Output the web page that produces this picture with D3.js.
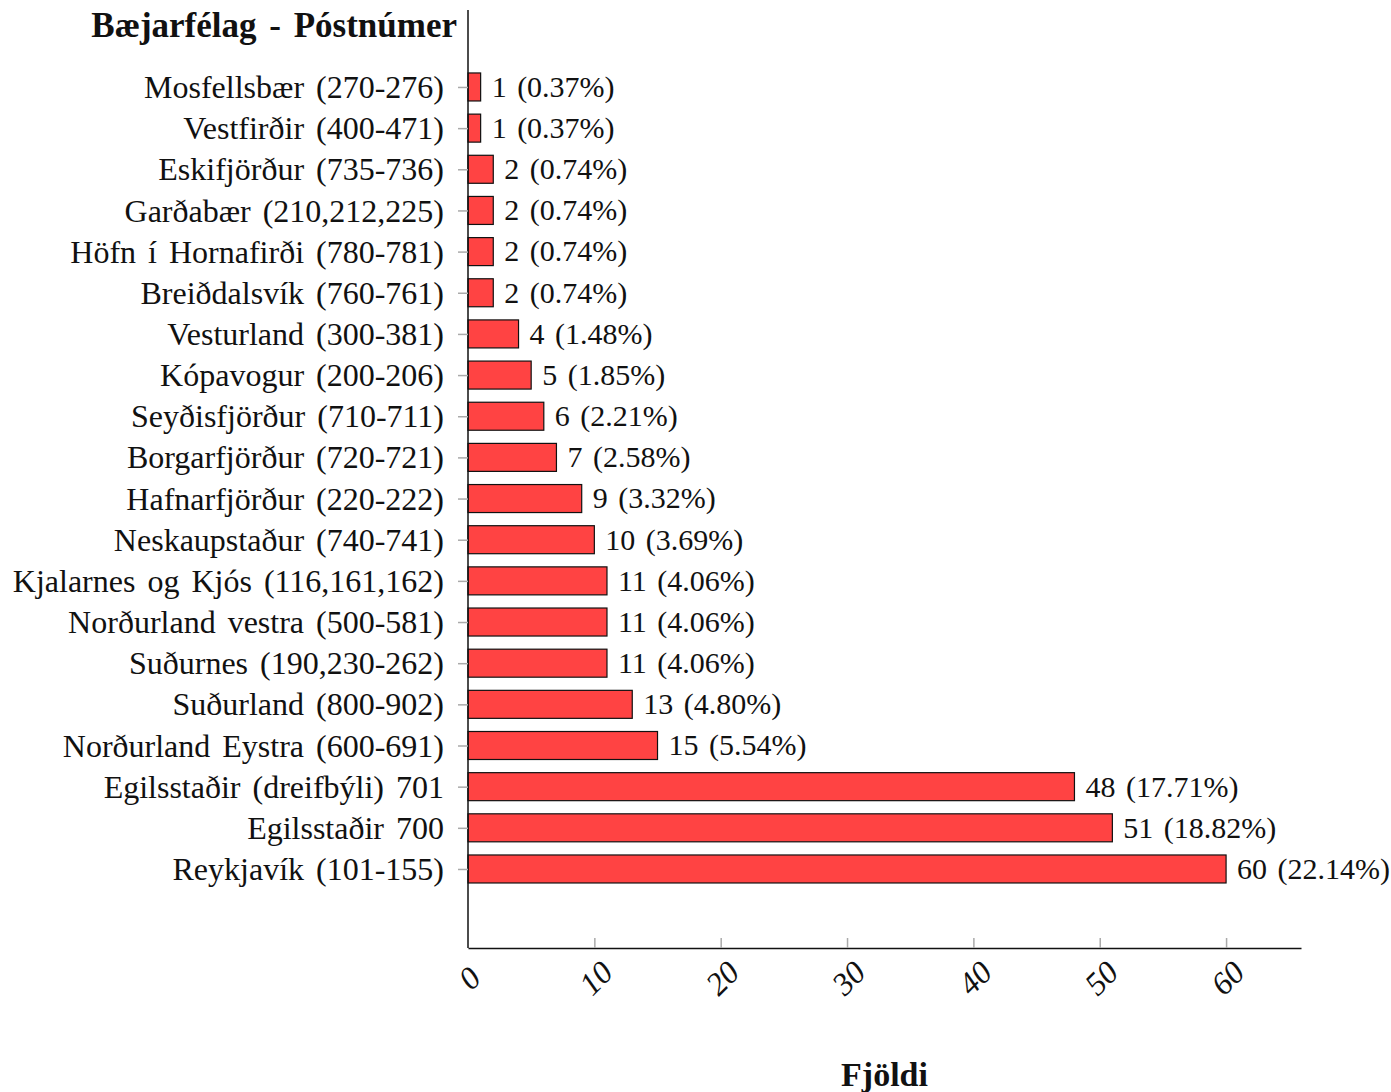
<!DOCTYPE html>
<html>
<head>
  <meta charset="utf-8">
  <title>Bæjarfélag - Póstnúmer</title>
  <script src="https://d3js.org/d3.v7.min.js"></script>
  <style>
  body { margin: 0; background: #fff; }
  svg { display: block; }
  text { font-family: 'Liberation Serif', 'DejaVu Serif', serif; fill: #111; word-spacing: 4px; }
  .bar rect { fill: #ff4343; stroke: #111; stroke-width: 1.2; }
  .bar text { word-spacing: 3px; }
  .tick line { stroke: #aaa; stroke-width: 1.5; }
  .domain { stroke: #111; stroke-width: 1.5; }
  </style>
</head>
<body>
<svg id="chart"></svg>
<script>
  // places, top to bottom
  var places = [
    "Mosfellsbær (270-276)",
    "Vestfirðir (400-471)",
    "Eskifjörður (735-736)",
    "Garðabær (210,212,225)",
    "Höfn í Hornafirði (780-781)",
    "Breiðdalsvík (760-761)",
    "Vesturland (300-381)",
    "Kópavogur (200-206)",
    "Seyðisfjörður (710-711)",
    "Borgarfjörður (720-721)",
    "Hafnarfjörður (220-222)",
    "Neskaupstaður (740-741)",
    "Kjalarnes og Kjós (116,161,162)",
    "Norðurland vestra (500-581)",
    "Suðurnes (190,230-262)",
    "Suðurland (800-902)",
    "Norðurland Eystra (600-691)",
    "Egilsstaðir (dreifbýli) 701",
    "Egilsstaðir 700",
    "Reykjavík (101-155)"
  ];
  var counts = [1, 1, 2, 2, 2, 2, 4, 5, 6, 7, 9, 10, 11, 11, 11, 13, 15, 48, 51, 60];
  var percents = ["0.37", "0.37", "0.74", "0.74", "0.74", "0.74", "1.48", "1.85", "2.21", "2.58",
                  "3.32", "3.69", "4.06", "4.06", "4.06", "4.80", "5.54", "17.71", "18.82", "22.14"];
  var xTicks = [0, 10, 20, 30, 40, 50, 60];

  var W = 1391, H = 1092;
  var padL = 468, padR = 1301, padT = 10, padB = 948;
  var fs = 32;

  var svg = d3.select("#chart").attr("width", W).attr("height", H);

  var x = d3.scaleLinear().domain([0, 65.93]).range([padL, padR]);
  // index scale: bar i centred at y(i)
  var y = d3.scaleLinear().domain([-1.87, places.length - 1 + 1.92]).range([padT, padB]);
  var barH = 28;

  // bars
  var groups = svg.append("g").selectAll("g")
    .data(places)
    .enter().append("g")
    .attr("class", "bar");

  groups.append("rect")
    .attr("x", x(0))
    .attr("y", function(d, i) { return y(i) - barH / 2; })
    .attr("width", function(d, i) { return x(counts[i]) - x(0); })
    .attr("height", barH);

  groups.append("text")
    .attr("x", function(d, i) { return x(counts[i]) + 11; })
    .attr("y", function(d, i) { return y(i); })
    .attr("dy", "0.33em")
    .style("font-size", "30px")
    .text(function(d, i) { return counts[i] + " (" + percents[i] + "%)"; });

  // y axis
  var yAxis = svg.append("g")
    .attr("transform", "translate(" + padL + ",0)")
    .call(d3.axisLeft(y).tickValues(d3.range(places.length)).tickSize(10).tickSizeOuter(0)
      .tickFormat(function(i) { return places[i]; }));
  yAxis.selectAll(".tick text")
    .attr("x", -24)
    .attr("dy", "0.33em")
    .style("font-size", fs + "px")
    .style("font-family", null);
  yAxis.select(".domain").attr("d", "M0," + padT + "V" + padB);

  // x axis, ticks pointing inward
  var xAxis = svg.append("g")
    .attr("transform", "translate(0," + padB + ")")
    .call(d3.axisBottom(x).tickValues(xTicks).tickSize(-10).tickSizeOuter(0));
  xAxis.selectAll(".tick text")
    .attr("y", 0)
    .attr("dy", 0)
    .attr("text-anchor", "middle")
    .attr("transform", "translate(1,30) rotate(-45)")
    .attr("dominant-baseline", "central")
    .style("font-size", "32px")
    .style("font-style", "italic")
    .style("font-family", null);
  xAxis.select(".tick:first-of-type line").remove();

  // titles
  svg.append("text")
    .attr("x", 457).attr("y", 37)
    .attr("text-anchor", "end")
    .style("font-size", "35px")
    .style("font-weight", "bold")
    .text("Bæjarfélag - Póstnúmer");

  svg.append("text")
    .attr("x", (padL + padR) / 2).attr("y", 1086)
    .attr("text-anchor", "middle")
    .style("font-size", "34px")
    .style("font-weight", "bold")
    .text("Fjöldi");
</script>
</body>
</html>
